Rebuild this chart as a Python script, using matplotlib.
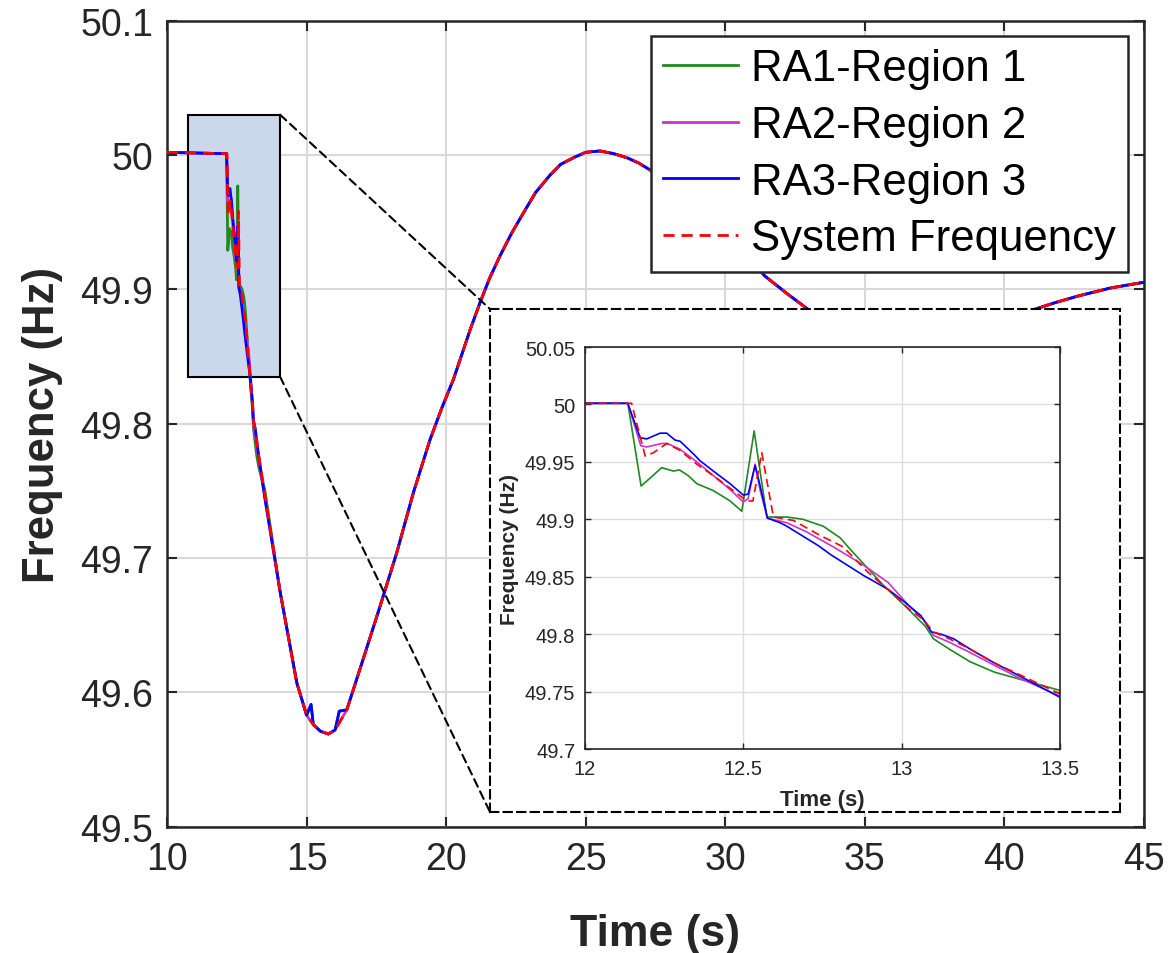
import numpy as np
import matplotlib
matplotlib.use('Agg')
from matplotlib import pyplot as plt
from matplotlib.patches import Rectangle, ConnectionPatch
from matplotlib.ticker import FormatStrFormatter

plt.rcParams['font.family'] = ['Liberation Sans', 'DejaVu Sans']

# ---- data ----
# detail of the disturbance (12 s - 13.5 s), one array per area
t_ra1 = [12.0, 12.135, 12.177, 12.21, 12.242, 12.279, 12.298, 12.326, 12.353, 12.405, 12.458,
         12.495, 12.534, 12.574, 12.637, 12.688, 12.752, 12.805, 12.837, 12.867, 12.944, 13.009,
         13.074, 13.10, 13.15, 13.216, 13.292, 13.37, 13.5]
f_ra1 = [50.001, 50.001, 49.929, 49.937, 49.945, 49.942, 49.943, 49.938, 49.931, 49.925, 49.916,
         49.907, 49.977, 49.902, 49.902, 49.900, 49.894, 49.884, 49.874, 49.865, 49.842, 49.825,
         49.807, 49.796, 49.787, 49.776, 49.767, 49.761, 49.751]

t_ra2 = [12.0, 12.135, 12.176, 12.195, 12.242, 12.26, 12.30, 12.353, 12.405, 12.458, 12.50,
         12.515, 12.537, 12.553, 12.576, 12.637, 12.70, 12.784, 12.88, 12.957, 13.022, 13.074,
         13.10, 13.15, 13.216, 13.292, 13.37, 13.5]
f_ra2 = [50.001, 50.001, 49.964, 49.963, 49.966, 49.966, 49.961, 49.950, 49.938, 49.926, 49.915,
         49.918, 49.948, 49.925, 49.901, 49.897, 49.889, 49.876, 49.860, 49.845, 49.825, 49.811,
         49.799, 49.793, 49.784, 49.773, 49.762, 49.746]

t_ra3 = [12.0, 12.135, 12.174, 12.195, 12.237, 12.258, 12.284, 12.30, 12.342, 12.363, 12.405,
         12.458, 12.50, 12.515, 12.537, 12.553, 12.576, 12.616, 12.637, 12.69, 12.737, 12.777,
         12.88, 12.957, 13.009, 13.061, 13.093, 13.124, 13.164, 13.216, 13.292, 13.37, 13.5]
f_ra3 = [50.001, 50.001, 49.971, 49.970, 49.975, 49.975, 49.969, 49.968, 49.957, 49.951, 49.942,
         49.931, 49.921, 49.922, 49.947, 49.929, 49.901, 49.897, 49.894, 49.885, 49.877, 49.869,
         49.851, 49.839, 49.828, 49.816, 49.802, 49.800, 49.796, 49.787, 49.775, 49.764, 49.745]

t_sys = [12.0, 12.147, 12.19, 12.216, 12.258, 12.30, 12.353, 12.405, 12.468, 12.511, 12.53,
         12.558, 12.595, 12.658, 12.742, 12.815, 12.893, 12.969, 13.022, 13.067, 13.10, 13.15,
         13.216, 13.292, 13.37, 13.5]
f_sys = [50.001, 50.001, 49.955, 49.958, 49.966, 49.960, 49.948, 49.938, 49.925, 49.916, 49.916,
         49.958, 49.902, 49.899, 49.886, 49.876, 49.854, 49.836, 49.822, 49.813, 49.802, 49.796,
         49.787, 49.775, 49.765, 49.748]

# pre-disturbance value and the shared long-term response (all areas overlap)
t_pre = [10.0]
f_pre = [50.002]
t_tail = [14.05, 14.65, 15.0, 15.24, 15.5, 15.78, 16.02, 16.44, 17.03, 17.63, 18.23,
          18.83, 19.42, 19.85, 20.26, 20.86, 21.21, 21.55, 21.93, 22.35, 22.77, 23.2, 23.72,
          24.1, 24.56, 25.0, 25.51, 26.0, 26.47, 26.9, 27.37, 28.5, 30.0, 31.41, 32.2, 32.97,
          35.0, 37.0, 39.0, 41.06, 41.8, 42.63, 43.8, 44.92, 45.0]
f_tail = [49.675, 49.607, 49.583, 49.576, 49.571, 49.569, 49.572, 49.587, 49.625, 49.664,
          49.704, 49.749, 49.788, 49.812, 49.833, 49.870, 49.890, 49.908, 49.925, 49.942, 49.957,
          49.972, 49.985, 49.993, 49.998, 50.002, 50.003, 50.001, 49.998, 49.994, 49.988, 49.972,
          49.944, 49.910, 49.897, 49.885, 49.872, 49.868, 49.873, 49.885, 49.890, 49.895, 49.901,
          49.905, 49.905]
# small spikes near the frequency nadir (RA1 / RA3)
t_spike = [15.16, 16.17]
f_spike = [49.591, 49.586]

labels = ['RA1-Region 1', 'RA2-Region 2', 'RA3-Region 3', 'System Frequency']
colors = ['#1f8a1f', '#cc33cc', '#0000ff', '#ff0000']
styles = ['-', '-', '-', '--']


def full_series(t_det, f_det, spikes=False):
    t = list(t_pre) + list(t_det) + list(t_tail)
    f = list(f_pre) + list(f_det) + list(f_tail)
    if spikes:
        t += t_spike
        f += f_spike
    order = np.argsort(t)
    return np.array(t)[order], np.array(f)[order]


series = [full_series(t_ra1, f_ra1, True), full_series(t_ra2, f_ra2),
          full_series(t_ra3, f_ra3, True), full_series(t_sys, f_sys)]
details = [(t_ra1, f_ra1), (t_ra2, f_ra2), (t_ra3, f_ra3), (t_sys, f_sys)]

dark = '#262626'
fig = plt.figure(figsize=(11.68, 9.54), dpi=100)

# ---- main axes ----
ax = fig.add_axes([0.1430, 0.1324, 0.8365, 0.8449])
for (t, f), lab, c, ls in zip(series, labels, colors, styles):
    ax.plot(t, f, color=c, linestyle=ls, lw=2.0, label=lab, zorder=3,
            dashes=(4, 2.5) if ls == '--' else (None, None))
ax.add_patch(Rectangle((10.75, 49.835), 3.3, 0.195, facecolor='#cbd8eb',
                       edgecolor='black', lw=1.5, zorder=2))
ax.set_xlim(10, 45)
ax.set_ylim(49.5, 50.1)
ax.set_xticks(np.arange(10, 46, 5))
ax.set_yticks(np.arange(49.5, 50.11, 0.1))
ax.yaxis.set_major_formatter(FormatStrFormatter('%g'))
ax.grid(True, color='#d9d9d9', lw=1.5)
ax.set_axisbelow(True)
ax.tick_params(direction='in', top=True, right=True, length=7, width=1.5,
               labelsize=27, colors=dark, pad=10)
for s in ax.spines.values():
    s.set_color(dark)
    s.set_linewidth(1.8)
ax.set_xlabel('Time (s)', fontsize=32, fontweight='bold', color=dark, labelpad=26)
ax.set_ylabel('Frequency (Hz)', fontsize=31.5, fontweight='bold', color=dark, labelpad=12)
leg = ax.legend(loc='upper right', bbox_to_anchor=(0.9836, 0.981), borderaxespad=0,
                fontsize=31.5, fancybox=False, framealpha=1, edgecolor=dark,
                handlelength=1.7, labelspacing=0.36, handletextpad=0.3, borderpad=0.28)
leg.get_frame().set_linewidth(1.8)
leg.set_zorder(10)

# ---- dashed frame around the zoom ----
box = fig.add_axes([0.4195, 0.1478, 0.5394, 0.5272])
box.set_zorder(2)
box.set_facecolor('white')
box.set_xticks([])
box.set_yticks([])
for s in box.spines.values():
    s.set_linestyle((0, (4, 2.5)))
    s.set_linewidth(1.5)
    s.set_color('black')

# connectors from the highlighted box to the zoom frame
for y_main, y_box in [(50.03, 1.0), (49.835, 0.0)]:
    con = ConnectionPatch(xyA=(14.05, y_main), coordsA=ax.transData,
                          xyB=(0.0, y_box), coordsB=box.transAxes,
                          color='black', lw=1.5, linestyle=(0, (4, 2.5)))
    fig.add_artist(con)

# ---- inset axes ----
ins = fig.add_axes([0.5009, 0.2138, 0.4067, 0.4214])
ins.set_zorder(3)
for (t, f), c, ls in zip(details, colors, styles):
    ins.plot(t, f, color=c, linestyle=ls, lw=1.2,
             dashes=(5, 3) if ls == '--' else (None, None))
ins.set_xlim(12, 13.5)
ins.set_ylim(49.7, 50.05)
ins.set_xticks([12, 12.5, 13, 13.5])
ins.set_yticks(np.arange(49.7, 50.051, 0.05))
ins.xaxis.set_major_formatter(FormatStrFormatter('%g'))
ins.yaxis.set_major_formatter(FormatStrFormatter('%g'))
ins.grid(True, color='#dedede', lw=1.0)
ins.set_axisbelow(True)
ins.tick_params(direction='in', top=True, right=True, length=4, width=1,
                labelsize=14.5, colors=dark, pad=7)
for s in ins.spines.values():
    s.set_color(dark)
    s.set_linewidth(1.2)
ins.set_xlabel('Time (s)', fontsize=16, fontweight='bold', color=dark, labelpad=8)
ins.set_ylabel('Frequency (Hz)', fontsize=15, fontweight='bold', color=dark, labelpad=4)

plt.savefig('out.png', dpi=100)
